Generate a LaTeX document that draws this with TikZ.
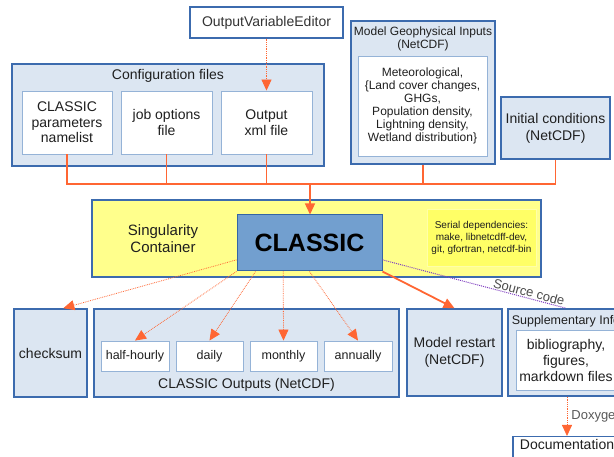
\documentclass[tikz,border=0pt]{standalone}
\usepackage{fontspec}
\setmainfont{Liberation Sans}
\usetikzlibrary{positioning, arrows.meta, calc}

\definecolor{boxfill}{HTML}{DCE6F2}
\definecolor{boxline}{HTML}{3C6BAE}
\definecolor{innerline}{HTML}{95B3D7}
\definecolor{classicfill}{HTML}{729FCF}
\definecolor{classicline}{HTML}{3465A4}
\definecolor{contfill}{HTML}{FFFF8C}
\definecolor{serialfill}{HTML}{FFFF66}
\definecolor{serialline}{HTML}{FFFFA8}
\definecolor{flow}{HTML}{FF6633}
\definecolor{srcline}{HTML}{8040C0}

\begin{document}
\begin{tikzpicture}[x=1pt, y=-1pt,
  every node/.style={font=\fontsize{14}{16}\selectfont, align=center, inner sep=0pt, text=black!88},
  outer/.style={draw=boxline, line width=1.6pt, fill=boxfill},
  plain/.style={draw=boxline, line width=1.4pt, fill=white},
  inner/.style={draw=innerline, line width=0.9pt, fill=white},
  feed/.style={draw=flow, line width=1.3pt},
  tip/.style={-{Triangle[length=11pt, width=10pt]}},
  dotarrow/.style={color=flow, line width=0.8pt, densely dotted, tip},
  small/.style={font=\fontsize{12}{13}\selectfont},
  mid/.style={font=\fontsize{12.5}{15}\selectfont}]

  \useasboundingbox (0,0) rectangle (614,457);
  \clip (0,0) rectangle (614,457);

  % inputs
  \node[plain, minimum width=153, minimum height=31, text=black!80] (editor) at (266.5,22.5) {OutputVariableEditor};

  \node[outer, minimum width=312, minimum height=102] (config) at (168,115) {};
  \node (configlabel) at (168,76) {Configuration files};
  \node[inner, minimum width=90, minimum height=63, font=\fontsize{14}{15.5}\selectfont] (namelist) at (67,122.5) {CLASSIC\\parameters\\namelist};
  \node[inner, minimum width=91, minimum height=63, font=\fontsize{14}{15.5}\selectfont] (jobopts) at (166.5,122.5) {job options\\file};
  \node[inner, minimum width=91, minimum height=63, font=\fontsize{14}{15.5}\selectfont] (xmlfile) at (266.5,122.5) {Output\\xml file};

  \node[outer, minimum width=144, minimum height=143] (geo) at (423,92.5) {};
  \node[small] (geolabel) at (423,38.5) {Model Geophysical Inputs\\(NetCDF)};
  \node[inner, small, minimum width=129, minimum height=100] (geoinner) at (422.5,106) {Meteorological,\\\{Land cover changes,\\GHGs,\\Population density,\\Lightning density,\\Wetland distribution\}};

  \node[outer, minimum width=109, minimum height=62, font=\fontsize{14}{17}\selectfont] (initcond) at (555.5,128) {Initial conditions\\(NetCDF)};

  % container
  \node[outer, fill=contfill, minimum width=449, minimum height=77] (container) at (316.5,238.5) {};
  \node[font=\fontsize{15}{17}\selectfont] (singlabel) at (163,238.5) {Singularity\\Container};
  \node[draw=classicline, line width=1pt, fill=classicfill, minimum width=145, minimum height=56, font=\bfseries\fontsize{25}{28}\selectfont, text=black] (classic) at (309.5,243) {CLASSIC};
  \node[draw=serialline, line width=0.8pt, fill=serialfill, minimum width=109, minimum height=57, font=\fontsize{10}{12}\selectfont] (serial) at (481.5,237.5) {Serial dependencies:\\make, libnetcdff-dev,\\git, gfortran, netcdf-bin};

  % outputs
  \node[outer, minimum width=73, minimum height=88] (checksum) at (50.5,353) {checksum};
  \node[outer, minimum width=305, minimum height=88] (outputs) at (246.5,353) {};
  \node (outlabel) at (246.5,385) {CLASSIC Outputs (NetCDF)};
  \node[inner, mid, minimum width=68, minimum height=30] (halfhourly) at (135,356) {half-hourly};
  \node[inner, mid, minimum width=67, minimum height=30] (daily) at (209.5,356) {daily};
  \node[inner, mid, minimum width=67, minimum height=30] (monthly) at (283.5,356) {monthly};
  \node[inner, mid, minimum width=68, minimum height=30] (annually) at (358,356) {annually};

  \node[outer, minimum width=95, minimum height=87, font=\fontsize{14}{17}\selectfont] (restart) at (454.5,352.5) {Model restart\\(NetCDF)};

  \node[outer, minimum width=116, minimum height=87] (supp) at (566,352.5) {};
  \node[mid] (supplabel) at (566,321) {Supplementary Info};
  \node[inner, minimum width=100, minimum height=60] (suppinner) at (566,360) {bibliography,\\figures,\\markdown files};

  \node[plain, anchor=north, minimum width=108, text height=10pt, text depth=20pt, inner ysep=3pt] (docs) at (567,436) {Documentation};

  % connectors
  \coordinate (hub) at (310,184);
  \draw[feed] (namelist.south) |- (hub) -| (initcond.south);
  \draw[feed] (jobopts.south) -- (jobopts.south |- hub);
  \draw[feed] (xmlfile.south) -- (xmlfile.south |- hub);
  \draw[feed] (geo.south) -- (geo.south |- hub);
  \draw[feed, tip] (hub) -- (hub |- classic.north);

  \path[dotarrow]
    (editor) edge (xmlfile)
    (classic.193) edge (checksum.74)
    (classic.south west) edge (halfhourly.north)
    ($(classic.south west)!0.13!(classic.south east)$) edge (daily.north)
    ($(classic.south west)!0.32!(classic.south east)$) edge (monthly.north)
    (classic.south) edge (annually.north)
    (supp.south -| docs.north) edge node[right=4pt, font=\fontsize{13}{15}\selectfont, text=black!65] {Doxygen} (docs.north);

  \draw[flow, line width=1.8pt, tip] (classic.south east) -- (restart.north);
  \draw[srcline, line width=1pt, densely dotted] (classic.-13) -- node[pos=0.79, sloped, above=1pt, font=\fontsize{13}{15}\selectfont, text=black!70] {Source code} (supp.north);
\end{tikzpicture}
\end{document}
